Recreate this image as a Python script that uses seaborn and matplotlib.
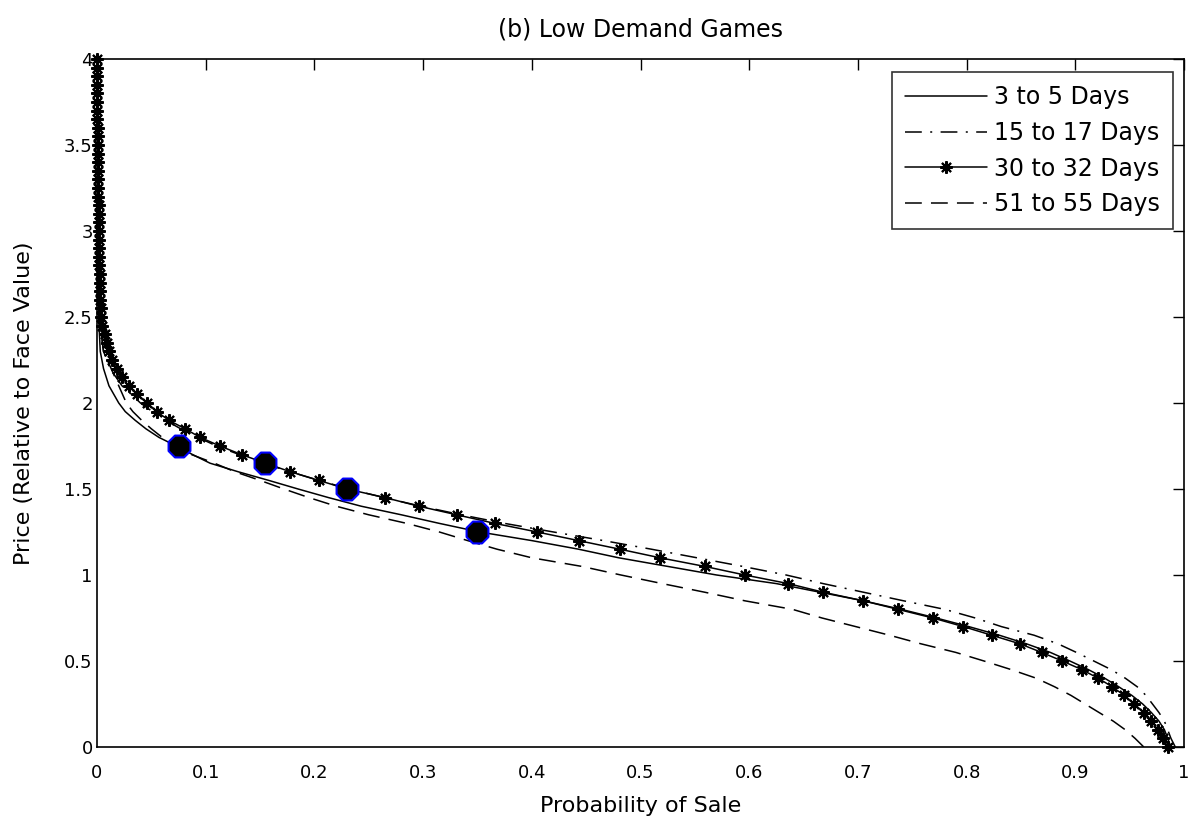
import matplotlib
matplotlib.use("Agg")
import matplotlib.pyplot as plt
import seaborn as sns

sns.set_theme(style="white")
plt.rcParams['font.family'] = ['DejaVu Sans']
plt.rcParams['text.color'] = 'black'
plt.rcParams['axes.labelcolor'] = 'black'
plt.rcParams['xtick.color'] = 'black'
plt.rcParams['ytick.color'] = 'black'

# ---- data ----
price_star = [0.00, 0.05, 0.10, 0.15, 0.20, 0.25, 0.30, 0.35, 0.40, 0.45,
              0.50, 0.55, 0.60, 0.65, 0.70, 0.75, 0.80, 0.85, 0.90, 0.95,
              1.00, 1.05, 1.10, 1.15, 1.20, 1.25, 1.30, 1.35, 1.40, 1.45,
              1.50, 1.55, 1.60, 1.65, 1.70, 1.75, 1.80, 1.85, 1.90, 1.95,
              2.00, 2.05, 2.10, 2.15, 2.20, 2.25, 2.30, 2.35, 2.40, 2.45,
              2.50, 2.55, 2.60, 2.65, 2.70, 2.75, 2.80, 2.85, 2.90, 2.95,
              3.00, 3.05, 3.10, 3.15, 3.20, 3.25, 3.30, 3.35, 3.40, 3.45,
              3.50, 3.55, 3.60, 3.65, 3.70, 3.75, 3.80, 3.85, 3.90, 3.95, 4.00]
prob_30_32 = [0.985, 0.981, 0.976, 0.970, 0.963, 0.954, 0.945, 0.934, 0.921, 0.906,
              0.888, 0.869, 0.849, 0.823, 0.797, 0.769, 0.737, 0.705, 0.668, 0.636,
              0.596, 0.559, 0.518, 0.481, 0.443, 0.405, 0.366, 0.331, 0.296, 0.265,
              0.230, 0.204, 0.178, 0.155, 0.133, 0.113, 0.095, 0.081, 0.066, 0.055,
              0.046, 0.037, 0.029, 0.023, 0.018, 0.014, 0.011, 0.009, 0.007, 0.005,
              0.004, 0.0035, 0.003, 0.0028, 0.0026, 0.0024, 0.0022, 0.002, 0.0019, 0.0018,
              0.0017, 0.0016, 0.0015, 0.0014, 0.0013, 0.0012, 0.0011, 0.001, 0.0009, 0.0008,
              0.0007, 0.0006, 0.0005, 0.0004, 0.0003, 0.0003, 0.0002, 0.0002, 0.0001, 0.0001, 0.0]

price_line = [0.00, 0.05, 0.10, 0.15, 0.20, 0.25, 0.30, 0.35, 0.40, 0.45,
              0.50, 0.55, 0.60, 0.65, 0.70, 0.75, 0.80, 0.85, 0.90, 0.95,
              1.00, 1.05, 1.10, 1.15, 1.20, 1.25, 1.30, 1.35, 1.40, 1.45,
              1.50, 1.55, 1.60, 1.65, 1.70, 1.75, 1.80, 1.85, 1.90, 1.95,
              2.00, 2.10, 2.20, 2.30, 2.50, 3.00, 4.00]
prob_3_5 = [0.988, 0.985, 0.982, 0.977, 0.970, 0.962, 0.952, 0.940, 0.927, 0.912,
            0.895, 0.877, 0.855, 0.830, 0.802, 0.772, 0.740, 0.705, 0.665, 0.625,
            0.570, 0.525, 0.480, 0.443, 0.400, 0.352, 0.315, 0.280, 0.243, 0.213,
            0.185, 0.158, 0.130, 0.104, 0.088, 0.073, 0.057, 0.045, 0.035, 0.026,
            0.020, 0.011, 0.006, 0.003, 0.0015, 0.0005, 0.0]
prob_15_17 = [0.992, 0.988, 0.985, 0.982, 0.977, 0.971, 0.965, 0.957, 0.946, 0.933,
              0.917, 0.901, 0.884, 0.862, 0.832, 0.808, 0.780, 0.742, 0.705, 0.668,
              0.634, 0.594, 0.552, 0.510, 0.466, 0.420, 0.375, 0.335, 0.298, 0.264,
              0.232, 0.204, 0.178, 0.153, 0.131, 0.110, 0.093, 0.077, 0.063, 0.051,
              0.040, 0.023, 0.012, 0.006, 0.002, 0.0005, 0.0]
prob_51_55 = [0.963, 0.955, 0.946, 0.935, 0.922, 0.909, 0.896, 0.881, 0.864, 0.841,
              0.816, 0.790, 0.758, 0.729, 0.698, 0.667, 0.640, 0.596, 0.559, 0.520,
              0.482, 0.446, 0.400, 0.368, 0.341, 0.315, 0.285, 0.250, 0.220, 0.195,
              0.172, 0.150, 0.127, 0.108, 0.087, 0.071, 0.060, 0.050, 0.041, 0.033,
              0.027, 0.020, 0.013, 0.006, 0.002, 0.0005, 0.0]

dot_prob = [0.075, 0.155, 0.23, 0.35]
dot_price = [1.75, 1.65, 1.50, 1.25]

series_labels = ["3 to 5 Days", "15 to 17 Days", "30 to 32 Days", "51 to 55 Days"]
x_ticks = [0, 0.1, 0.2, 0.3, 0.4, 0.5, 0.6, 0.7, 0.8, 0.9, 1]
x_ticklabels = ["0", "0.1", "0.2", "0.3", "0.4", "0.5", "0.6", "0.7", "0.8", "0.9", "1"]
y_ticks = [0, 0.5, 1, 1.5, 2, 2.5, 3, 3.5, 4]
y_ticklabels = ["0", "0.5", "1", "1.5", "2", "2.5", "3", "3.5", "4"]

# ---- figure ----
fig = plt.figure(figsize=(11.94, 8.22), dpi=100)
ax = fig.add_axes([97/1194, 1 - 747/822, (1184 - 97)/1194, (747 - 59)/822])

common = dict(sort=False, estimator=None, ax=ax, color="black", linewidth=1.1)

sns.lineplot(x=prob_3_5, y=price_line, label=series_labels[0],
             linestyle="-", **common)
sns.lineplot(x=prob_15_17, y=price_line, label=series_labels[1],
             linestyle=(0, (11, 5.5, 1.3, 5.5)), **common)
sns.lineplot(x=prob_30_32, y=price_star, label=series_labels[2],
             linestyle="-", marker=(8, 2, 0), markersize=9,
             markeredgecolor="black", markeredgewidth=1.5, clip_on=False, **common)
sns.lineplot(x=prob_51_55, y=price_line, label=series_labels[3],
             linestyle=(0, (11, 6)), **common)

sns.scatterplot(x=dot_prob, y=dot_price, ax=ax, marker="8", s=290,
                color="black", edgecolor="#0000ff", linewidth=1.5, zorder=5,
                legend=False)

ax.set_xlim(0, 1)
ax.set_ylim(0, 4)
ax.set_xticks(x_ticks)
ax.set_xticklabels(x_ticklabels)
ax.set_yticks(y_ticks)
ax.set_yticklabels(y_ticklabels)
ax.tick_params(direction="in", length=8, width=1, colors="black",
               labelsize=13, top=True, right=True)
ax.tick_params(axis="x", pad=12)
ax.tick_params(axis="y", pad=3)
for sp in ax.spines.values():
    sp.set_color("black")
    sp.set_linewidth(1.2)

ax.set_title("(b) Low Demand Games", fontsize=17, pad=16, color="black")
ax.set_xlabel("Probability of Sale", fontsize=16, labelpad=10, color="black")
ax.set_ylabel("Price (Relative to Face Value)", fontsize=16, labelpad=22, color="black")

leg = ax.legend(loc="upper right", bbox_to_anchor=(0.99, 0.981), borderaxespad=0,
                fontsize=17, handlelength=3.5, frameon=True, fancybox=False,
                labelspacing=0.5, borderpad=0.55, handletextpad=0.3)
leg.get_frame().set_edgecolor("black")
leg.get_frame().set_linewidth(1.2)
for t in leg.get_texts():
    t.set_color("black")

fig.savefig("out.png", dpi=100, facecolor="white")
